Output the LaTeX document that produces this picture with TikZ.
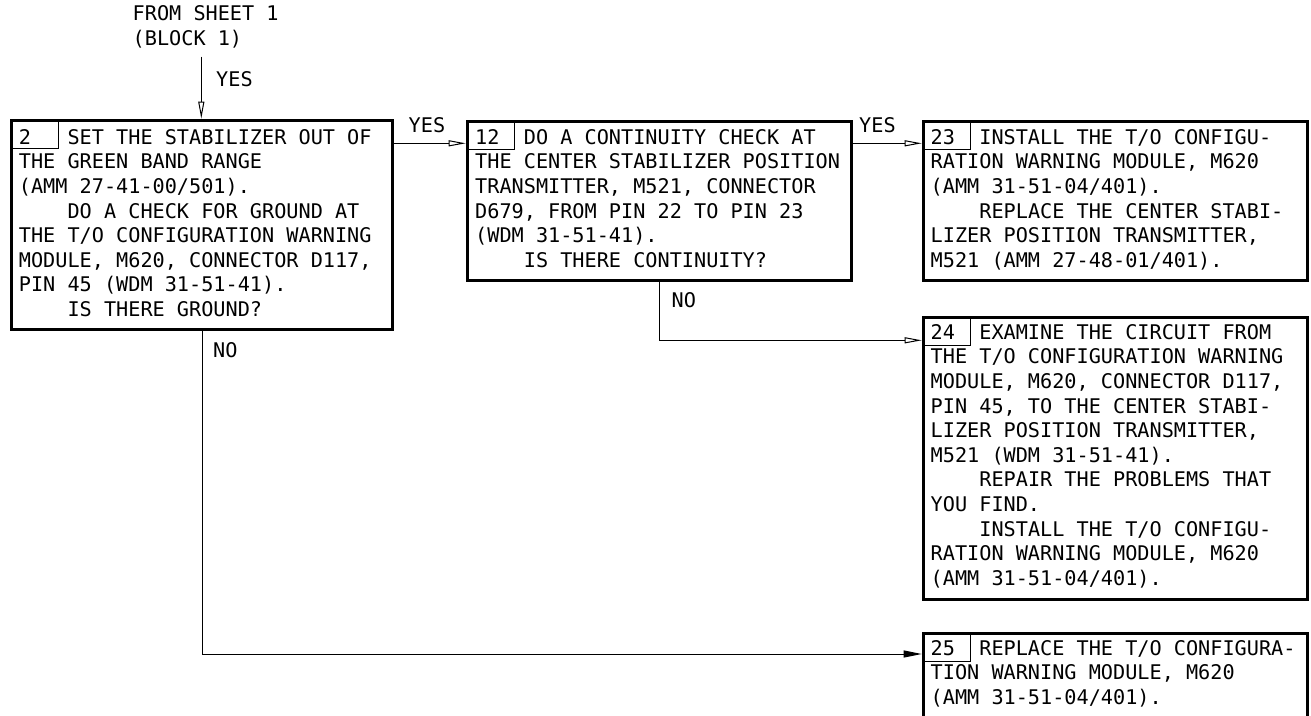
\documentclass[tikz,border=0pt]{standalone}
\usepackage{fontspec}
\newfontfamily\dmono{DejaVu Sans Mono}
\usetikzlibrary{arrows.meta,calc}
\newcommand\fl{\rule{0pt}{16pt}}
\newcommand\ind{\phantom{XXXX}}
\newcommand\num[1]{\rlap{#1}\phantom{XXXX}}
\tikzset{
  stepbox/.style={draw, line width=3pt, anchor=north west, inner sep=0pt},
  numcell/.style={draw, line width=0.8pt, anchor=north west, inner sep=0pt, minimum width=48pt, minimum height=29pt},
  txt/.style={anchor=north west, inner sep=0pt, align=left, font={\dmono\fontsize{20.2}{24.6}\selectfont}},
  lbl/.style={anchor=base west, inner sep=0pt, font={\dmono\fontsize{20.2}{24.6}\selectfont}},
  oarrow/.style={line width=1pt, -{Triangle[open, length=17pt, width=6pt, line width=1pt]}},
  farrow/.style={line width=1pt, -{Triangle[length=18pt, width=7pt]}},
}
\begin{document}
\begin{tikzpicture}[x=1pt, y=-1pt]
\useasboundingbox[fill=white] (0,0) rectangle (1311,715);
\clip (0,0) rectangle (1311,715);

% boxes
\node[stepbox, minimum width=381.6pt, minimum height=209.6pt] (b2) at (9.7,118.7) {};
\node[stepbox, minimum width=384.3pt, minimum height=159pt] (b12) at (465.7,119.7) {};
\node[stepbox, minimum width=384pt, minimum height=159.8pt] (b23) at (921.7,119.5) {};
\node[stepbox, minimum width=384pt, minimum height=281.6pt] (b24) at (921.7,316.2) {};
\node[stepbox, minimum width=384pt, minimum height=140pt] (b25) at (921.7,631.5) {};

% number cells
\node[numcell] (n2) at (b2.north west) {};
\node[numcell] (n12) at (b12.north west) {};
\node[numcell] (n23) at (b23.north west) {};
\node[numcell] (n24) at (b24.north west) {};
\node[numcell] (n25) at (b25.north west) {};

% texts
\node[txt] (t2) at (18.7,128) {\fl\num{2}SET THE STABILIZER OUT OF\\
THE GREEN BAND RANGE\\
(AMM 27-41-00/501).\\
\ind DO A CHECK FOR GROUND AT\\
THE T/O CONFIGURATION WARNING\\
MODULE, M620, CONNECTOR D117,\\
PIN 45 (WDM 31-51-41).\\
\ind IS THERE GROUND?};

\node[txt] (t12) at (475,128) {\fl\num{12}DO A CONTINUITY CHECK AT\\
THE CENTER STABILIZER POSITION\\
TRANSMITTER, M521, CONNECTOR\\
D679, FROM PIN 22 TO PIN 23\\
(WDM 31-51-41).\\
\ind IS THERE CONTINUITY?};

\node[txt] (t23) at (930.5,128) {\fl\num{23}INSTALL THE T/O CONFIGU-\\
RATION WARNING MODULE, M620\\
(AMM 31-51-04/401).\\
\ind REPLACE THE CENTER STABI-\\
LIZER POSITION TRANSMITTER,\\
M521 (AMM 27-48-01/401).};

\node[txt] (t24) at (930.5,323) {\fl\num{24}EXAMINE THE CIRCUIT FROM\\
THE T/O CONFIGURATION WARNING\\
MODULE, M620, CONNECTOR D117,\\
PIN 45, TO THE CENTER STABI-\\
LIZER POSITION TRANSMITTER,\\
M521 (WDM 31-51-41).\\
\ind REPAIR THE PROBLEMS THAT\\
YOU FIND.\\
\ind INSTALL THE T/O CONFIGU-\\
RATION WARNING MODULE, M620\\
(AMM 31-51-04/401).};

\node[txt] (t25) at (930.5,639) {\fl\num{25}REPLACE THE T/O CONFIGURA-\\
TION WARNING MODULE, M620\\
(AMM 31-51-04/401).};

% header
\node[txt] (from) at (132.5,4.7) {\fl FROM SHEET 1\\(BLOCK 1)};

% labels
\node[lbl] (yes0) at (216,86) {YES};
\node[lbl] (yes1) at (408.5,132) {YES};
\node[lbl] (yes2) at (859,132) {YES};
\node[lbl] (no1) at (671.5,307) {NO};
\node[lbl] (no2) at (213,357) {NO};

% connectors
\coordinate (start) at (201.3,56.7);
\coordinate (c12) at ($(b12.north west)+(0,23.6)$);
\coordinate (c23) at ($(b23.north west)+(0,23.8)$);
\coordinate (c24) at ($(b24.north west)+(0,24.1)$);
\coordinate (c25) at ($(b25.north west)+(0,22.5)$);

\draw[oarrow] (start) -- (start |- b2.north);
\draw[oarrow] (c12 -| b2.east) -- (c12);
\draw[oarrow] (c23 -| b12.east) -- (c23);
\draw[oarrow] (b12.south) |- (c24);
\draw[farrow] (b2.south) |- (c25);
\end{tikzpicture}
\end{document}
